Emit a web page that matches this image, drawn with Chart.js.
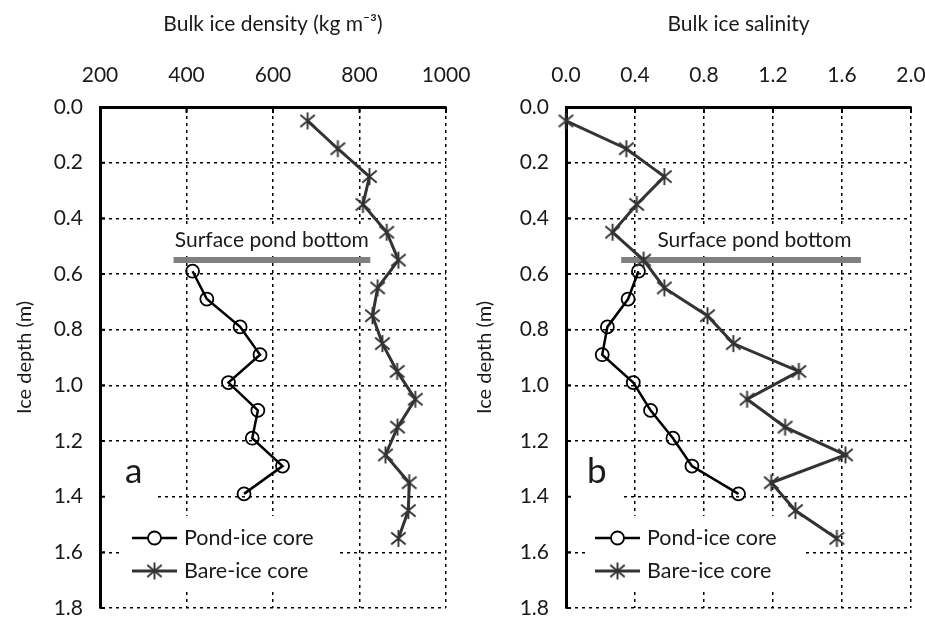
<!DOCTYPE html>
<html><head><meta charset="utf-8">
<script src="https://cdn.jsdelivr.net/npm/chart.js@4.4.0/dist/chart.umd.min.js"></script>
<style>
html,body{margin:0;padding:0;background:#fff;}
#wrap{position:relative;width:925px;height:619px;overflow:hidden;}
canvas{position:absolute;left:0;top:0;}
</style></head><body>
<div id="wrap"><canvas id="c1" width="925" height="619"></canvas><canvas id="c2" width="925" height="619"></canvas></div>
<script>
// ---- data ----
const depthBare = [0.05, 0.15, 0.25, 0.35, 0.45, 0.55, 0.65, 0.75, 0.85, 0.95, 1.05, 1.15, 1.25, 1.35, 1.45, 1.55];
const densityBare = [680, 750, 823, 808, 863, 890, 842, 830, 853, 887, 929, 888, 860, 915, 913, 890];
const salinityBare = [0.00, 0.35, 0.57, 0.41, 0.27, 0.45, 0.57, 0.82, 0.97, 1.35, 1.05, 1.27, 1.62, 1.19, 1.33, 1.57];

const depthPond = [0.59, 0.69, 0.79, 0.89, 0.99, 1.09, 1.19, 1.29, 1.39];
const densityPond = [414, 447, 524, 570, 497, 565, 552, 622, 533];
const salinityPond = [0.42, 0.36, 0.24, 0.21, 0.39, 0.49, 0.62, 0.73, 1.00];

const pondBottomDepth = 0.55;
const pondBarDensity = [370, 825];
const pondBarSalinity = [0.32, 1.71];
const pondTextDensity = 373;
const pondTextSalinity = 0.53;

const densityTicks = [200, 400, 600, 800, 1000];
const salinityTicks = [0.0, 0.4, 0.8, 1.2, 1.6, 2.0];
const depthTicks = [0.0, 0.2, 0.4, 0.6, 0.8, 1.0, 1.2, 1.4, 1.6, 1.8];

const seriesLabels = ['Pond-ice core', 'Bare-ice core'];
const annotationText = 'Surface pond bottom';

// ---- styling ----
const FONT = 'Lato, "Open Sans", sans-serif';
const TXT = '#1a1a1a';

function starMarker(size) {
  const c = document.createElement('canvas');
  c.width = size; c.height = size;
  const g = c.getContext('2d');
  g.strokeStyle = '#333'; g.lineWidth = 1.9;
  const m = size / 2, r = size / 2 - 1;
  g.beginPath();
  g.moveTo(m, m - r); g.lineTo(m, m + r);
  g.moveTo(m - r * 0.85, m - r * 0.7); g.lineTo(m + r * 0.85, m + r * 0.7);
  g.moveTo(m + r * 0.85, m - r * 0.7); g.lineTo(m - r * 0.85, m + r * 0.7);
  g.stroke();
  return c;
}
const STAR = starMarker(19);

function pts(xs, ys) { return ys.map((y, i) => ({x: xs[i], y})); }

function panelPlugin(cfg) {
  return {
    id: 'panel' + cfg.letter,
    beforeDatasetsDraw(chart) {
      const {ctx, chartArea: a, scales: {x, y}} = chart;
      ctx.save();
      ctx.fillStyle = '#fff';
      ctx.fillRect(a.left + 2, a.bottom - 155, 55, 47);
      ctx.fillRect(a.left + 20, a.bottom - 92, 217, 74);
      ctx.font = `21px ${FONT}`;
      const tx = x.getPixelForValue(cfg.textX), ty = y.getPixelForValue(pondBottomDepth) - 13;
      const w = ctx.measureText(annotationText).width;
      ctx.fillRect(tx - 3, ty - 19, w + 6, 25);
      ctx.restore();
    },
    afterDatasetsDraw(chart) {
      const {ctx, chartArea: a, scales: {x, y}} = chart;
      ctx.save();
      // inward ticks
      ctx.strokeStyle = '#000'; ctx.lineWidth = 2;
      ctx.beginPath();
      x.ticks.forEach(t => { const p = x.getPixelForValue(t.value); ctx.moveTo(p, a.top); ctx.lineTo(p, a.top + 6); });
      y.ticks.forEach(t => { const p = y.getPixelForValue(t.value); ctx.moveTo(a.left, p); ctx.lineTo(a.left + 5, p); });
      ctx.stroke();
      // annotation text
      ctx.fillStyle = TXT;
      ctx.font = `21px ${FONT}`;
      ctx.textBaseline = 'alphabetic'; ctx.textAlign = 'left';
      ctx.fillText(annotationText, x.getPixelForValue(cfg.textX), y.getPixelForValue(pondBottomDepth) - 13);
      // panel letter
      ctx.font = `35px ${FONT}`;
      ctx.fillText(cfg.letter, a.left + cfg.letterDx, a.bottom - 125);
      // legend
      const ds = chart.data.datasets;
      const rows = [a.bottom - 70, a.bottom - 37];
      [0, 1].forEach(i => {
        const d = ds[i], yy = rows[i], x0 = a.left + cfg.legDx, x1 = x0 + 45, xm = (x0 + x1) / 2;
        ctx.strokeStyle = d.borderColor; ctx.lineWidth = d.borderWidth;
        ctx.beginPath(); ctx.moveTo(x0, yy); ctx.lineTo(x1, yy); ctx.stroke();
        if (i === 0) {
          ctx.fillStyle = '#fff'; ctx.lineWidth = d.pointBorderWidth;
          ctx.beginPath(); ctx.arc(xm, yy, d.pointRadius, 0, Math.PI * 2); ctx.fill(); ctx.stroke();
        } else {
          ctx.drawImage(STAR, xm - STAR.width / 2, yy - STAR.height / 2);
        }
        ctx.fillStyle = TXT; ctx.font = `21.5px ${FONT}`; ctx.textBaseline = 'middle';
        ctx.fillText(d.label, x1 + 7, yy);
        ctx.textBaseline = 'alphabetic';
      });
      ctx.restore();
    }
  };
}

function makeChart(id, cfg) {
  return new Chart(document.getElementById(id), {
    type: 'scatter',
    data: {
      datasets: [
        {label: seriesLabels[0], data: pts(cfg.pondX, depthPond), showLine: true, borderColor: '#000', borderWidth: 2.5,
         pointStyle: 'circle', pointRadius: 6.5, pointBorderWidth: 1.8, pointBorderColor: '#000',
         pointBackgroundColor: 'rgba(0,0,0,0)', clip: false, order: 1, tension: 0},
        {label: seriesLabels[1], data: pts(cfg.bareX, depthBare), showLine: true, borderColor: '#333', borderWidth: 3,
         pointStyle: STAR, pointRadius: 8, clip: false, order: 0, tension: 0},
        {label: annotationText, data: cfg.barX.map(v => ({x: v, y: pondBottomDepth})), showLine: true,
         borderColor: '#808080', borderWidth: 6, pointRadius: 0, borderCapStyle: 'butt', clip: false, order: 5}
      ]
    },
    options: {
      responsive: false, animation: false, devicePixelRatio: 1,
      layout: {padding: {left: cfg.padLeft, right: cfg.padRight, top: 0, bottom: 9}},
      plugins: {legend: {display: false}, tooltip: {enabled: false}},
      events: [],
      scales: {
        x: {
          type: 'linear', position: 'top', min: cfg.xTicks[0], max: cfg.xTicks[cfg.xTicks.length - 1],
          afterBuildTicks(s) { s.ticks = cfg.xTicks.map(v => ({value: v})); },
          ticks: {padding: 19, color: TXT, font: {family: FONT, size: 21}, callback: cfg.xFmt},
          grid: {color: '#000', lineWidth: 1.5, drawTicks: false},
          border: {display: true, color: '#000', width: 3, dash: [3, 4]},
          title: {display: true, text: cfg.xTitle, color: TXT, font: {family: FONT, size: 21}, padding: {top: 11.5, bottom: 0}},
          afterFit(s) { s.height = 107; s.paddingLeft = 0; s.paddingRight = 0; }
        },
        y: {
          type: 'linear', position: 'left', reverse: true, min: 0, max: 1.8,
          afterBuildTicks(s) { s.ticks = depthTicks.map(v => ({value: v})); },
          ticks: {padding: 17, color: TXT, font: {family: FONT, size: 21}, callback: v => Number(v).toFixed(1)},
          grid: {color: '#000', lineWidth: 1.5, drawTicks: false},
          border: {display: true, color: '#000', width: 3, dash: [3, 4]},
          title: {display: true, text: 'Ice depth (m)', color: TXT, font: {family: FONT, size: 20}, padding: {top: cfg.yTitlePad, bottom: 0}},
          afterFit(s) { s.width = cfg.yWidth; s.paddingTop = 0; s.paddingBottom = 0; }
        }
      }
    },
    plugins: [panelPlugin(cfg)]
  });
}

makeChart('c1', {
  letter: 'a', letterDx: 25, legDx: 32, textX: pondTextDensity,
  pondX: densityPond, bareX: densityBare, barX: pondBarDensity,
  xTicks: densityTicks, xFmt: v => String(v), xTitle: 'Bulk ice density (kg m⁻³)',
  padLeft: 0, padRight: 479, yWidth: 100, yTitlePad: 13
});
makeChart('c2', {
  letter: 'b', letterDx: 21, legDx: 29, textX: pondTextSalinity,
  pondX: salinityPond, bareX: salinityBare, barX: pondBarSalinity,
  xTicks: salinityTicks, xFmt: v => Number(v).toFixed(1), xTitle: 'Bulk ice salinity',
  padLeft: 462, padRight: 14, yWidth: 104, yTitlePad: 11
});
</script>
</body></html>
